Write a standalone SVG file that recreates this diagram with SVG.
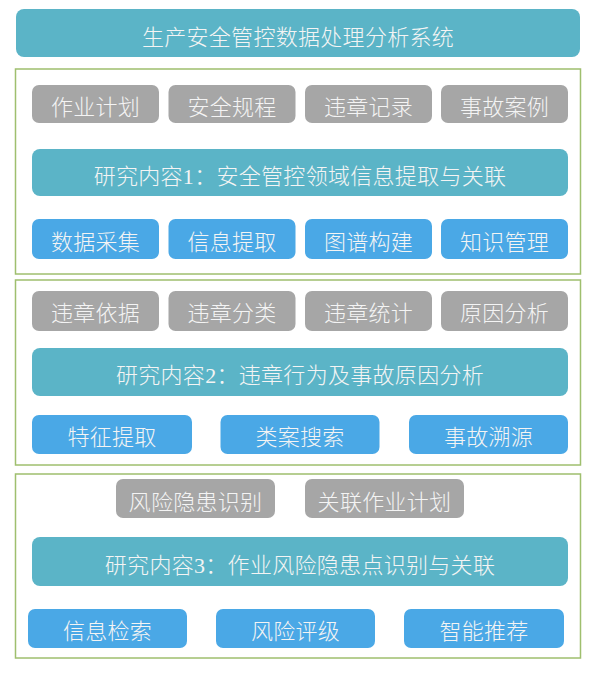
<svg xmlns="http://www.w3.org/2000/svg" width="596" height="674" viewBox="0 0 596 674">
<style>
  .frame{fill:#ffffff;stroke:#9fbf6e;stroke-width:1.5}
  .teal{fill:#5bb4c7}
  .gray{fill:#a6a6a6}
  .blue{fill:#4aa8e6}
  text{font-family:"Noto Sans CJK SC","Liberation Sans",sans-serif;font-size:22px;font-weight:300;fill:#f4f4f4;text-anchor:middle;letter-spacing:0.3px}
  .d{font-family:"Liberation Serif","Noto Sans CJK SC",serif}
</style>
<rect width="596" height="674" fill="#ffffff"/>

<g id="title">
  <rect class="teal" x="16" y="9" width="564" height="48" rx="8"/>
  <text x="298" y="44.5">生产安全管控数据处理分析系统</text>
</g>

<g id="section1">
  <rect class="frame" x="15.5" y="69" width="565" height="205"/>
  <g id="s1-plan"><rect class="gray" x="32" y="85" width="127" height="38" rx="7"/><text x="95.5" y="115">作业计划</text></g>
  <g id="s1-rules"><rect class="gray" x="168.5" y="85" width="127" height="38" rx="7"/><text x="232" y="115">安全规程</text></g>
  <g id="s1-violation"><rect class="gray" x="305" y="85" width="127" height="38" rx="7"/><text x="368.5" y="115">违章记录</text></g>
  <g id="s1-cases"><rect class="gray" x="441" y="85" width="127" height="38" rx="7"/><text x="504.5" y="115">事故案例</text></g>
  <g id="s1-research"><rect class="teal" x="32" y="149" width="536" height="47" rx="8"/><text x="300" y="183.5">研究内容<tspan class="d">1</tspan>：安全管控领域信息提取与关联</text></g>
  <g id="s1-collect"><rect class="blue" x="32" y="219" width="127" height="40" rx="7"/><text x="95.5" y="249.5">数据采集</text></g>
  <g id="s1-extract"><rect class="blue" x="168.5" y="219" width="127" height="40" rx="7"/><text x="232" y="249.5">信息提取</text></g>
  <g id="s1-graph"><rect class="blue" x="305" y="219" width="127" height="40" rx="7"/><text x="368.5" y="249.5">图谱构建</text></g>
  <g id="s1-knowledge"><rect class="blue" x="441" y="219" width="127" height="40" rx="7"/><text x="504.5" y="249.5">知识管理</text></g>
</g>

<g id="section2">
  <rect class="frame" x="15.5" y="280" width="565" height="185"/>
  <g id="s2-basis"><rect class="gray" x="32" y="291" width="127" height="40" rx="7"/><text x="95.5" y="321">违章依据</text></g>
  <g id="s2-classify"><rect class="gray" x="168.5" y="291" width="127" height="40" rx="7"/><text x="232" y="321">违章分类</text></g>
  <g id="s2-stats"><rect class="gray" x="305" y="291" width="127" height="40" rx="7"/><text x="368.5" y="321">违章统计</text></g>
  <g id="s2-cause"><rect class="gray" x="441" y="291" width="127" height="40" rx="7"/><text x="504.5" y="321">原因分析</text></g>
  <g id="s2-research"><rect class="teal" x="32" y="348" width="536" height="48" rx="8"/><text x="300" y="383">研究内容<tspan class="d">2</tspan>：违章行为及事故原因分析</text></g>
  <g id="s2-feature"><rect class="blue" x="32" y="415" width="160" height="39" rx="7"/><text x="112" y="445">特征提取</text></g>
  <g id="s2-search"><rect class="blue" x="220.5" y="415" width="159" height="39" rx="7"/><text x="300" y="445">类案搜索</text></g>
  <g id="s2-trace"><rect class="blue" x="409" y="415" width="159" height="39" rx="7"/><text x="488.5" y="445">事故溯源</text></g>
</g>

<g id="section3">
  <rect class="frame" x="15.5" y="474" width="565" height="184"/>
  <g id="s3-risk"><rect class="gray" x="116" y="479" width="159" height="39" rx="7"/><text x="195.5" y="510">风险隐患识别</text></g>
  <g id="s3-plan"><rect class="gray" x="305" y="479" width="159" height="39" rx="7"/><text x="384.5" y="510">关联作业计划</text></g>
  <g id="s3-research"><rect class="teal" x="32" y="537" width="536" height="49" rx="8"/><text x="300" y="573">研究内容<tspan class="d">3</tspan>：作业风险隐患点识别与关联</text></g>
  <g id="s3-retrieval"><rect class="blue" x="28" y="609" width="159" height="39" rx="7"/><text x="107.5" y="638.5">信息检索</text></g>
  <g id="s3-rating"><rect class="blue" x="216" y="609" width="159" height="39" rx="7"/><text x="295.5" y="638.5">风险评级</text></g>
  <g id="s3-recommend"><rect class="blue" x="404" y="609" width="160" height="39" rx="7"/><text x="484" y="638.5">智能推荐</text></g>
</g>

<g id="connectors"></g>
</svg>
